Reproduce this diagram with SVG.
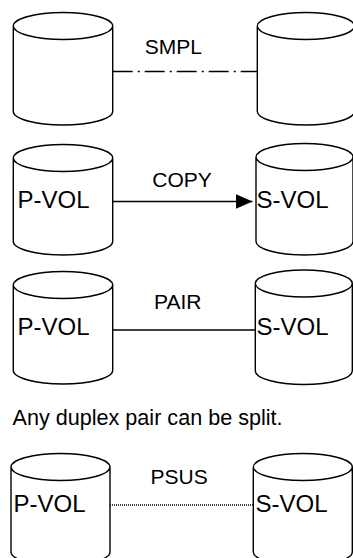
<svg xmlns="http://www.w3.org/2000/svg" width="353" height="558" viewBox="0 0 353 558">
<style>
.cyl{fill:#fff;stroke:#000;stroke-width:1.4}
.vol{font-family:"Liberation Sans",Arial,sans-serif;font-size:24px;fill:#000}
.lbl{font-family:"Liberation Sans",Arial,sans-serif;font-size:21px;fill:#000}
.conn{stroke:#000;stroke-width:1.4;fill:none}
</style>
<defs>
<marker id="arr" markerWidth="17" markerHeight="15" refX="17" refY="7.5" orient="auto" markerUnits="userSpaceOnUse">
<path d="M0,0 L17,7.5 L0,15 Z" fill="#000"/>
</marker>
</defs>
<rect width="353" height="558" fill="#fff"/>
<g id="row1-left"><path class="cyl" d="M13.3,26 a49.7,13.5 0 0 1 99.4,0 a49.7,13.5 0 0 1 -99.4,0 Z M13.3,26 V111.5 a49.7,13.5 0 0 0 99.4,0 V26"/></g>
<g id="row1-right"><path class="cyl" d="M257.3,26 a48.5,13.5 0 0 1 97,0 a48.5,13.5 0 0 1 -97,0 Z M257.3,26 V111.5 a48.5,13.5 0 0 0 97,0 V26"/></g>
<g id="row2-left"><path class="cyl" d="M13.3,158 a49.7,13.5 0 0 1 99.4,0 a49.7,13.5 0 0 1 -99.4,0 Z M13.3,158 V241.5 a49.7,13.5 0 0 0 99.4,0 V158"/><text class="vol" x="17.5" y="208.3">P-VOL</text></g>
<g id="row2-right"><path class="cyl" d="M256,157 a48.5,13.5 0 0 1 97,0 a48.5,13.5 0 0 1 -97,0 Z M256,157 V241.5 a48.5,13.5 0 0 0 97,0 V157"/><text class="vol" x="256.5" y="208.3">S-VOL</text></g>
<g id="row3-left"><path class="cyl" d="M13.3,285 a49.7,13.5 0 0 1 99.4,0 a49.7,13.5 0 0 1 -99.4,0 Z M13.3,285 V370.5 a49.7,13.5 0 0 0 99.4,0 V285"/><text class="vol" x="17.5" y="335">P-VOL</text></g>
<g id="row3-right"><path class="cyl" d="M255.3,283.5 a48.5,13.5 0 0 1 97,0 a48.5,13.5 0 0 1 -97,0 Z M255.3,283.5 V371 a48.5,13.5 0 0 0 97,0 V283.5"/><text class="vol" x="256.5" y="335">S-VOL</text></g>
<g id="row4-left"><path class="cyl" d="M11,467 a49.5,13.5 0 0 1 99,0 a49.5,13.5 0 0 1 -99,0 Z M11,467 V552 a49.5,13.5 0 0 0 99,0 V467"/><text class="vol" x="13.5" y="512.3">P-VOL</text></g>
<g id="row4-right"><path class="cyl" d="M253.3,467 a49.5,13.5 0 0 1 99,0 a49.5,13.5 0 0 1 -99,0 Z M253.3,467 V552 a49.5,13.5 0 0 0 99,0 V467"/><text class="vol" x="255.5" y="512.3">S-VOL</text></g>
<g id="connectors">
<line class="conn" x1="112.7" y1="71.5" x2="257.3" y2="71.5" stroke-dasharray="20 5 2 5"/>
<line class="conn" x1="112.7" y1="201.5" x2="252.5" y2="201.5" marker-end="url(#arr)"/>
<line class="conn" x1="112.7" y1="330" x2="255.3" y2="330"/>
<line class="conn" x1="110" y1="505" x2="253.3" y2="505" stroke-width="1.2" stroke-dasharray="1 1"/>
</g>
<g id="labels">
<text class="lbl" x="144.7" y="54.3">SMPL</text>
<text class="lbl" x="152.3" y="186.7">COPY</text>
<text class="lbl" x="154" y="309.3">PAIR</text>
<text class="lbl" x="150.6" y="484">PSUS</text>
<text class="lbl" x="12.5" y="425" style="font-size:21.6px">Any duplex pair can be split.</text>
</g>
</svg>
